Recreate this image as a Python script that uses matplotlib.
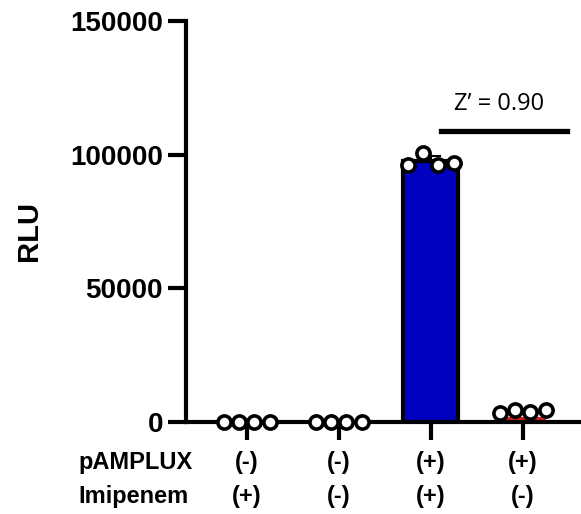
import numpy as np
import matplotlib
matplotlib.use('Agg')
import matplotlib.pyplot as plt
from matplotlib.transforms import blended_transform_factory

plt.rcParams['font.family'] = ['Liberation Sans', 'DejaVu Sans']

# conditions
pamplux = ['(-)', '(-)', '(+)', '(+)']
imipenem = ['(+)', '(-)', '(+)', '(-)']
row_names = ['pAMPLUX', 'Imipenem']

# replicate luminescence readings (RLU)
reps = [
    [0, 0, 0, 0],
    [0, 0, 0, 0],
    [96300, 100700, 96300, 97000],
    [3400, 4500, 3900, 4500],
]
bar_vals = [0, 0, 97600, 1800]
bar_err = [0, 0, 2100, 0]
bar_colors = ['#0000c0', '#0000c0', '#0000c0', '#d42020']
bar_edges = [3, 3, 3, 0]
bar_widths = [0.6, 0.6, 0.6, 0.5]
yticks = [0, 50000, 100000, 150000]
zprime = "Z\u2019 = 0.90"

fig = plt.figure(figsize=(5.81, 5.14), dpi=100)
ax = fig.add_axes([0.32, 0.179, 0.678, 0.780])

x = np.arange(len(reps))
ax.bar(x, bar_vals, width=bar_widths, color=bar_colors, edgecolor='black',
       linewidth=bar_edges, zorder=2)
for i in range(len(reps)):
    if bar_err[i] > 0:
        ax.errorbar(x[i], bar_vals[i], yerr=[[0], [bar_err[i]]], fmt='none',
                    ecolor='black', elinewidth=1.5, capsize=7, capthick=1.5,
                    zorder=3)
    offs = np.linspace(-0.25, 0.25, len(reps[i]))
    ax.scatter(x[i] + offs, reps[i], s=90, facecolor='white',
               edgecolor='black', linewidth=2.6, zorder=4, clip_on=False)

ax.set_xlim(-0.66, 3.62)
ax.set_ylim(0, 150000)
ax.set_yticks(yticks)
ax.set_yticklabels([str(v) for v in yticks], fontsize=20, fontweight='bold')
ax.set_xticks(x)
ax.set_xticklabels([])
ax.tick_params(axis='both', width=3, length=13, direction='out')
for s in ['top', 'right']:
    ax.spines[s].set_visible(False)
for s in ['left', 'bottom']:
    ax.spines[s].set_linewidth(3)
ax.set_ylabel('RLU', fontsize=21, fontweight='bold')
ax.yaxis.set_label_coords(-0.362, 0.476)

# Z' bracket
ax.plot([2.11, 3.48], [109000, 109000], color='black', linewidth=3.8,
        clip_on=False)
ax.text(2.74, 116700, zprime, ha='center', va='baseline', fontsize=17,
        family=['Open Sans', 'DejaVu Sans'])

# condition table under the axis
tr = blended_transform_factory(ax.transData, fig.transFigure)
for row, (name, vals) in enumerate(zip(row_names, [pamplux, imipenem])):
    yfig = (514 - 462 - row * 35) / 514
    fig.text(78 / 581, yfig, name, ha='left', va='center', fontsize=17,
             fontweight='bold')
    for i, v in enumerate(vals):
        ax.text(x[i], yfig, v, transform=tr, ha='center', va='center',
                fontsize=17, fontweight='bold')

fig.savefig('out.png', dpi=100)
